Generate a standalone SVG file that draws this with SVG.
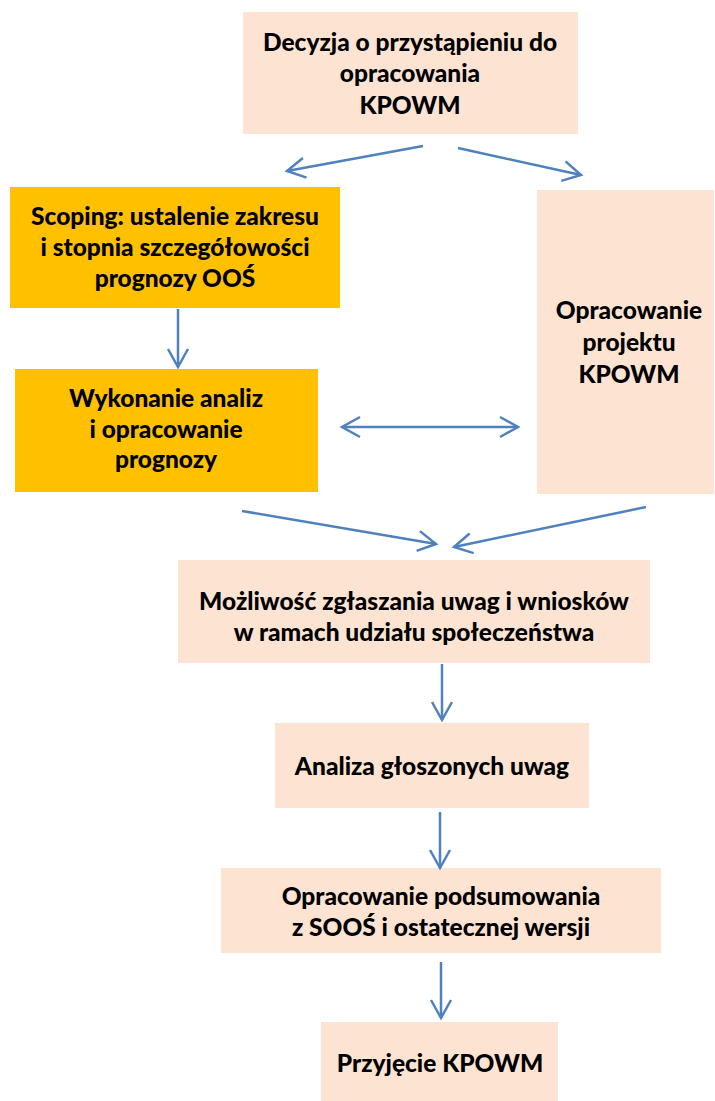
<svg xmlns="http://www.w3.org/2000/svg" width="715" height="1101" viewBox="0 0 715 1101">
<defs>
<style>
.peach{fill:#FDE4D2}
.gold{fill:#FFC000}
text{font-family:Lato,"Open Sans","Liberation Sans",sans-serif;font-weight:900;font-size:24.5px;fill:#000;text-anchor:middle}
.c{fill:none;stroke:#4F81BD;stroke-width:2.5}
</style>
<marker id="ah" markerUnits="userSpaceOnUse" viewBox="-22 -12 26 24" markerWidth="26" markerHeight="24" refX="0" refY="0" orient="auto-start-reverse">
<path d="M-18,-10 L0,0 L-18,10" fill="none" stroke="#4F81BD" stroke-width="2.5"/>
</marker>
</defs>
<rect width="715" height="1101" fill="#fff"/>
<g id="n1"><rect class="peach" x="243" y="12" width="335" height="122"/>
<text x="410" y="51">Decyzja o przystąpieniu do</text><text x="410" y="82">opracowania</text><text x="410" y="114">KPOWM</text></g>
<g id="n2"><rect class="gold" x="10" y="187" width="330" height="121"/>
<text x="175" y="225">Scoping: ustalenie zakresu</text><text x="175" y="256">i stopnia szczegółowości</text><text x="175" y="287">prognozy OOŚ</text></g>
<g id="n3"><rect class="gold" x="15" y="369" width="303" height="123"/>
<text x="166" y="407">Wykonanie analiz</text><text x="166" y="438">i opracowanie</text><text x="166" y="468">prognozy</text></g>
<g id="n4"><rect class="peach" x="537" y="190" width="177" height="304"/>
<text x="629" y="319">Opracowanie</text><text x="629" y="351">projektu</text><text x="629" y="383">KPOWM</text></g>
<g id="n5"><rect class="peach" x="178" y="560" width="472" height="103"/>
<text x="414" y="610">Możliwość zgłaszania uwag i wniosków</text><text x="414" y="641">w ramach udziału społeczeństwa</text></g>
<g id="n6"><rect class="peach" x="275" y="723" width="314" height="85"/>
<text x="432" y="775">Analiza głoszonych uwag</text></g>
<g id="n7"><rect class="peach" x="221" y="868" width="440" height="85"/>
<text x="441" y="905">Opracowanie podsumowania</text><text x="441" y="936">z SOOŚ i ostatecznej wersji</text></g>
<g id="n8"><rect class="peach" x="321" y="1022" width="237" height="79"/>
<text x="440" y="1072">Przyjęcie KPOWM</text></g>
<g id="connectors">
<line class="c" x1="423" y1="146" x2="287" y2="171" marker-end="url(#ah)"/>
<line class="c" x1="458" y1="148" x2="581" y2="175" marker-end="url(#ah)"/>
<line class="c" x1="178" y1="309" x2="178" y2="367" marker-end="url(#ah)"/>
<line class="c" x1="342" y1="427" x2="518" y2="427" marker-start="url(#ah)" marker-end="url(#ah)"/>
<line class="c" x1="242" y1="511" x2="436" y2="544" marker-end="url(#ah)"/>
<line class="c" x1="646" y1="507" x2="454" y2="547" marker-end="url(#ah)"/>
<line class="c" x1="442" y1="664" x2="442" y2="720" marker-end="url(#ah)"/>
<line class="c" x1="440" y1="812" x2="440" y2="868" marker-end="url(#ah)"/>
<line class="c" x1="441" y1="962" x2="441" y2="1018" marker-end="url(#ah)"/>
</g>
</svg>
